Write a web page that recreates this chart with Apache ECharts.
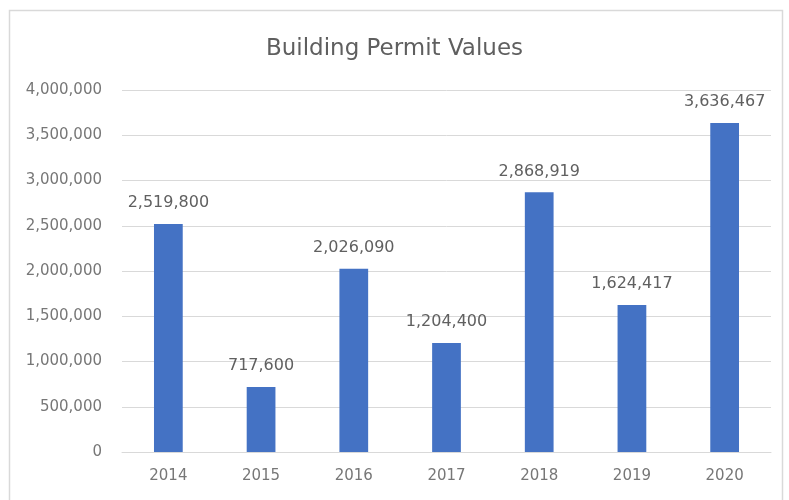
<!DOCTYPE html>
<html><head><meta charset="utf-8">
<script src="https://cdn.jsdelivr.net/npm/echarts@6/dist/echarts.min.js"></script>
<style>html,body{margin:0;padding:0;background:#fff}#c{width:789px;height:500px}</style>
</head><body><div id="c"></div>
<script>
const categories = ['2014','2015','2016','2017','2018','2019','2020'];
const values = [2519800, 717600, 2026090, 1204400, 2868919, 1624417, 3636467];
const title = 'Building Permit Values';
const fmt = v => Number(v).toLocaleString('en-US');
const FF = 'DejaVu Sans';
const chart = echarts.init(document.getElementById('c'));
chart.setOption({
  backgroundColor: '#fff',
  graphic: [{type:'rect', shape:{x:9.5,y:10.5,width:773,height:495}, style:{fill:'none', stroke:'#d9d9d9', lineWidth:1.5}, silent:true}],
  title: {text: title, left: 'center', top: 33, textStyle:{fontFamily:FF, fontSize:23, fontWeight:'normal', color:'#5f5f5f'}},
  grid: {left:122, right:18, top:90, bottom:48, containLabel:false},
  xAxis: {type:'category', data:categories, axisLine:{lineStyle:{color:'#d9d9d9'}}, axisTick:{show:false},
    axisLabel:{fontFamily:FF, fontSize:15, color:'#777777', margin:17}},
  yAxis: {type:'value', min:0, max:4000000, interval:500000, axisLine:{show:false}, axisTick:{show:false},
    splitLine:{lineStyle:{color:'#d9d9d9'}},
    axisLabel:{fontFamily:FF, fontSize:15, color:'#777777', margin:20, formatter: fmt}},
  series: [{type:'bar', data: values, barWidth:'31%', itemStyle:{color:'#4472C4'},
    label:{show:true, position:'top', distance:13, fontFamily:FF, fontSize:16, color:'#606060', formatter: p => fmt(p.value)}}]
});
</script></body></html>
